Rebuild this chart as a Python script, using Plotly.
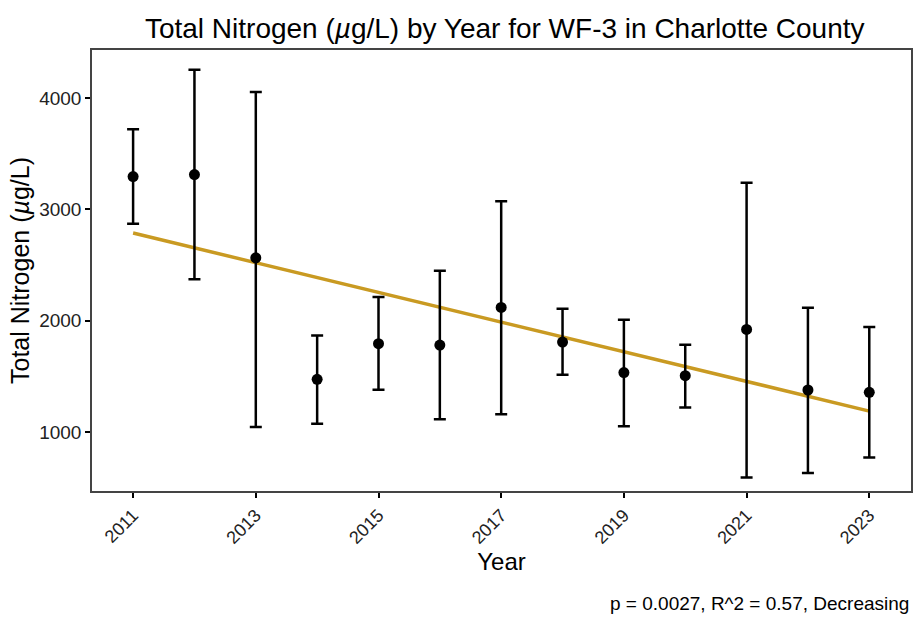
import numpy as np
import plotly.graph_objects as go

years = [2011, 2012, 2013, 2014, 2015, 2016, 2017, 2018, 2019, 2020, 2021, 2022, 2023]
mean_tn = [3293, 3311, 2564, 1473, 1793, 1780, 2118, 1807, 1533, 1506, 1921, 1377, 1356]
upper_tn = [3718, 4253, 4053, 1867, 2211, 2447, 3072, 2107, 2008, 1784, 3237, 2116, 1942]
lower_tn = [2869, 2372, 1045, 1075, 1380, 1114, 1159, 1515, 1051, 1219, 591, 632, 770]
x_ticks = [2011, 2013, 2015, 2017, 2019, 2021, 2023]
y_ticks = [1000, 2000, 3000, 4000]
stats_text = "p = 0.0027, R^2 = 0.57, Decreasing"

err_plus = [u - m for u, m in zip(upper_tn, mean_tn)]
err_minus = [m - l for m, l in zip(mean_tn, lower_tn)]

slope, intercept = np.polyfit(years, mean_tn, 1)
fit_x = [years[0], years[-1]]
fit_y = [slope * x + intercept for x in fit_x]

fig = go.Figure()
fig.add_trace(go.Scatter(
    x=fit_x, y=fit_y, mode="lines",
    line=dict(color="#C99A22", width=3.5), showlegend=False, hoverinfo="skip"))
fig.add_trace(go.Scatter(
    x=years, y=mean_tn, mode="markers",
    marker=dict(color="black", size=11),
    error_y=dict(type="data", symmetric=False, array=err_plus, arrayminus=err_minus,
                 color="black", thickness=2.5, width=6),
    showlegend=False))

font = "Liberation Sans, Arial, Helvetica, sans-serif"
fig.update_layout(
    width=921, height=621,
    margin=dict(l=92, r=8, t=50, b=130),
    paper_bgcolor="white", plot_bgcolor="white",
    font=dict(family=font, color="black"),
    title=dict(text="Total Nitrogen (<i>µ</i>g/L) by Year for WF-3 in Charlotte County",
               x=0.548, xanchor="center", y=0.955, yanchor="middle",
               font=dict(size=28, color="black")),
    xaxis=dict(range=[2010.33, 2023.68], tickvals=x_ticks, ticktext=[str(t) for t in x_ticks],
               tickangle=-45, ticks="outside", ticklen=5, tickwidth=1.5, tickcolor="black",
               tickfont=dict(size=18, color="#222"), showgrid=False, zeroline=False,
               showline=True, linecolor="#444", linewidth=1.5, mirror=True,
               title=dict(text="Year", font=dict(size=24), standoff=6)),
    yaxis=dict(range=[470, 4430], tickvals=y_ticks, ticks="outside", ticklen=5,
               tickwidth=1.5, tickcolor="black", tickfont=dict(size=19, color="#222"),
               showgrid=False, zeroline=False, showline=True, linecolor="#444",
               linewidth=1.5, mirror=True,
               title=dict(text="Total Nitrogen (<i>µ</i>g/L)", font=dict(size=25), standoff=2)),
    annotations=[dict(text=stats_text, xref="paper", yref="paper", x=1.0, y=-0.255,
                      xanchor="right", yanchor="middle", showarrow=False,
                      font=dict(size=19, color="black"))],
)

fig.write_html("out.html")
